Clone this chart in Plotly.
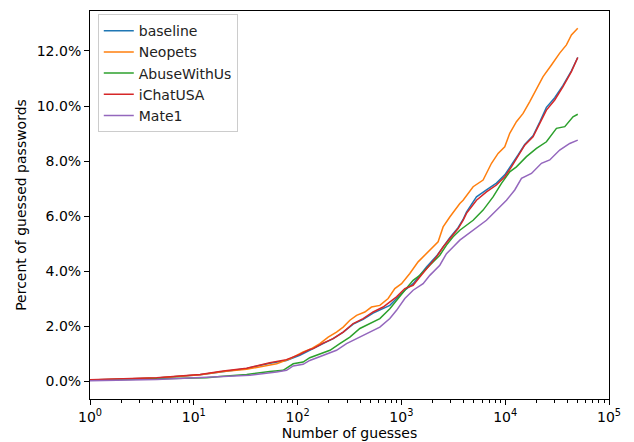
import plotly.graph_objects as go

# ---- data (guesses, percent guessed) ----
baseline_x = [1, 4.4, 11.5, 19.2, 32.3, 54, 78, 105, 131, 141, 176, 220, 275, 343, 428, 534,
              620, 774, 898, 1079, 1297, 1504, 1745, 2178, 2523, 2927, 3516, 3928, 4236, 5288,
              6600, 8238, 9904, 11490, 13300, 15420, 18540, 21520, 24950, 30000, 36060, 43450, 50000]
baseline_y = [0.05, 0.12, 0.24, 0.36, 0.47, 0.66, 0.76, 0.95, 1.14, 1.19, 1.37, 1.55, 1.79, 2.08, 2.25, 2.48,
              2.60, 2.76, 3.01, 3.31, 3.55, 3.85, 4.15, 4.55, 4.90, 5.22, 5.58, 5.88, 6.15, 6.70,
              6.95, 7.20, 7.50, 7.84, 8.22, 8.60, 8.92, 9.42, 9.95, 10.30, 10.75, 11.28, 11.76]

neopets_x = [1, 4.4, 11.5, 19.2, 32.3, 54, 62.8, 84.3, 113, 136, 164, 197, 237, 275, 319, 370,
             444, 515, 620, 745, 864, 1003, 1205, 1449, 1619, 1878, 2258, 2523, 2925, 3655, 3930,
             4910, 6125, 7380, 8540, 9900, 11060, 12830, 14870, 17250, 20000, 23160, 27900,
             33500, 38900, 43450, 50000]
neopets_y = [0.05, 0.12, 0.24, 0.36, 0.44, 0.60, 0.64, 0.82, 1.07, 1.19, 1.37, 1.61, 1.79, 1.97, 2.22, 2.40,
             2.52, 2.70, 2.76, 3.01, 3.37, 3.55, 3.92, 4.34, 4.52, 4.76, 5.07, 5.61, 5.97, 6.46, 6.58,
             7.07, 7.31, 7.92, 8.28, 8.52, 9.01, 9.43, 9.73, 10.16, 10.64, 11.07, 11.49,
             11.92, 12.22, 12.58, 12.82]

abuse_x = [1, 4.4, 13.3, 17.9, 32.3, 54, 72.6, 90.7, 113, 131, 205, 255, 319, 398, 497, 620,
           774, 898, 1079, 1297, 1504, 1745, 2020, 2344, 2718, 3148, 3654, 4909, 6125, 7640,
           9204, 11060, 12830, 16020, 20000, 24950, 31170, 37490, 45000, 50000]
abuse_y = [0.04, 0.10, 0.13, 0.18, 0.25, 0.36, 0.40, 0.64, 0.70, 0.86, 1.13, 1.37, 1.61, 1.92, 2.10, 2.28,
           2.64, 2.95, 3.31, 3.67, 3.85, 4.10, 4.34, 4.58, 4.95, 5.25, 5.49, 5.85, 6.22, 6.70,
           7.19, 7.61, 7.79, 8.16, 8.46, 8.70, 9.19, 9.25, 9.61, 9.70]

ichat_x = [1, 4.4, 11.5, 19.2, 32.3, 54, 78, 105, 131, 141, 176, 220, 275, 343, 428, 534,
           667, 774, 898, 1079, 1297, 1504, 1745, 2178, 2523, 2927, 3516, 3928, 4236, 5288,
           6600, 8238, 9904, 11490, 13300, 15420, 18540, 21520, 24950, 30000, 36060, 43450, 50000]
ichat_y = [0.06, 0.13, 0.25, 0.38, 0.48, 0.68, 0.79, 0.98, 1.16, 1.19, 1.39, 1.55, 1.79, 2.10, 2.28, 2.52,
           2.70, 2.88, 3.07, 3.37, 3.49, 3.79, 4.10, 4.52, 4.88, 5.19, 5.55, 5.85, 6.10, 6.58,
           6.88, 7.13, 7.43, 7.79, 8.16, 8.58, 8.88, 9.37, 9.85, 10.22, 10.70, 11.25, 11.76]

mate_x = [1, 4.4, 19.2, 34.7, 62.8, 78.3, 90.7, 113, 131, 237, 296, 370, 497, 620, 774, 898,
          1079, 1297, 1619, 1878, 2344, 2718, 3148, 3654, 6600, 8238, 10290, 12360, 14350,
          17900, 22340, 26860, 33500, 41860, 50000]
mate_y = [0.02, 0.07, 0.18, 0.22, 0.34, 0.40, 0.56, 0.62, 0.76, 1.13, 1.37, 1.55, 1.79, 1.97, 2.28, 2.58,
          3.01, 3.31, 3.55, 3.85, 4.22, 4.64, 4.88, 5.13, 5.85, 6.22, 6.58, 6.95, 7.37,
          7.55, 7.92, 8.04, 8.40, 8.64, 8.76]

series_names = ["baseline", "Neopets", "AbuseWithUs", "iChatUSA", "Mate1"]
series_x = [baseline_x, neopets_x, abuse_x, ichat_x, mate_x]
series_y = [baseline_y, neopets_y, abuse_y, ichat_y, mate_y]
colors = ["#1f77b4", "#ff7f0e", "#2ca02c", "#d62728", "#9467bd"]

x_tickvals = [1, 10, 100, 1000, 10000, 100000]
x_ticktext = ["10<sup>0</sup>", "10<sup>1</sup>", "10<sup>2</sup>", "10<sup>3</sup>",
              "10<sup>4</sup>", "10<sup>5</sup>"]
y_tickvals = [0.0, 0.02, 0.04, 0.06, 0.08, 0.10, 0.12]

FONT = "DejaVu Sans"

fig = go.Figure()
for name, xs, ys, c in zip(series_names, series_x, series_y, colors):
    fig.add_trace(go.Scatter(
        x=xs, y=[v / 100 for v in ys], name=name, mode="lines",
        line=dict(color=c, width=1.5),
    ))

minor_vals = [m * 10 ** k for k in range(5) for m in range(2, 10)]

fig.update_layout(
    width=634, height=442,
    margin=dict(l=90, r=25, t=11, b=43),
    paper_bgcolor="white", plot_bgcolor="white",
    font=dict(family=FONT, size=14, color="black"),
    showlegend=True,
    legend=dict(
        x=0.015, y=0.992, xanchor="left", yanchor="top",
        bgcolor="white", bordercolor="#cccccc", borderwidth=1,
        font=dict(family=FONT, size=14, color="#222222"),
        tracegroupgap=0,
    ),
    xaxis=dict(
        type="log", range=[0, 5], automargin=False,
        tickmode="array", tickvals=x_tickvals, ticktext=x_ticktext,
        ticks="outside", ticklen=5, tickwidth=1, tickcolor="black",
        showline=True, linecolor="black", linewidth=1, mirror=True,
        showgrid=False, zeroline=False,
        minor=dict(tickmode="array", tickvals=minor_vals, ticks="outside",
                   ticklen=3, tickwidth=1, tickcolor="black", showgrid=False),
        title=dict(text="Number of guesses", standoff=4,
                   font=dict(family=FONT, size=14, color="black")),
        tickfont=dict(family=FONT, size=14, color="black"),
    ),
    yaxis=dict(
        range=[-0.0064, 0.1345], automargin=False,
        tickmode="array", tickvals=y_tickvals, tickformat=".1%",
        ticks="outside", ticklen=5, tickwidth=1, tickcolor="black",
        showline=True, linecolor="black", linewidth=1, mirror=True,
        showgrid=False, zeroline=False,
        title=dict(text="Percent of guessed passwords", standoff=6,
                   font=dict(family=FONT, size=14, color="black")),
        tickfont=dict(family=FONT, size=14, color="black"),
    ),
)

fig.write_html(
    "out.html",
    config={"displayModeBar": False},
    post_script="document.body.style.margin='0';document.body.style.padding='0';",
)
